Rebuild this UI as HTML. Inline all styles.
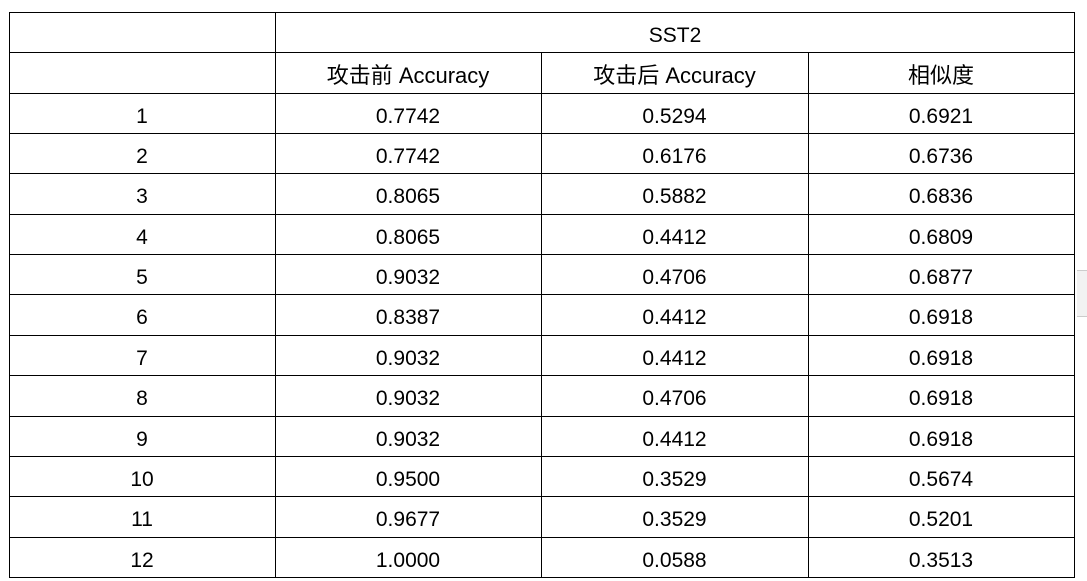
<!DOCTYPE html>
<html><head><meta charset="utf-8"><style>
body{margin:0;width:1087px;height:581px;background:#fff;position:relative;overflow:hidden;font-family:"Liberation Sans","Noto Sans CJK SC",sans-serif;color:#000}
.h{position:absolute;height:1px;background:#000}
.v{position:absolute;width:1px;background:#000}
.c{position:absolute;text-align:center;font-size:21px;line-height:40px}
.hd{font-size:22px}
</style></head><body>
<div id="t"></div>
<div style="position:absolute;left:1077px;top:270px;width:10px;height:45px;background:#f2f2f2;border-top:1px solid #ccc;border-bottom:1px solid #ccc"></div>
<script>
const rowsIdx=["1","2","3","4","5","6","7","8","9","10","11","12"];
const before=["0.7742","0.7742","0.8065","0.8065","0.9032","0.8387","0.9032","0.9032","0.9032","0.9500","0.9677","1.0000"];
const after=["0.5294","0.6176","0.5882","0.4412","0.4706","0.4412","0.4412","0.4706","0.4412","0.3529","0.3529","0.0588"];
const sim=["0.6921","0.6736","0.6836","0.6809","0.6877","0.6918","0.6918","0.6918","0.6918","0.5674","0.5201","0.3513"];
const t=document.getElementById('t');
const xs=[9,275,541,808,1074];
const y0=12,rh=40.35,n=14,dy=3;
function add(cls,st,txt,name){const d=document.createElement('div');d.className=cls;d.style.cssText=st;if(txt)d.textContent=txt;


t.appendChild(d);return d;}
for(let i=0;i<=n;i++){const y=Math.round(y0+i*rh);
 add('h',`left:9px;top:${y}px;width:1066px`,null,'row-border');}
for(let j=0;j<xs.length;j++){const top=(j===2||j===3)?Math.round(y0+rh):y0;
 add('v',`left:${xs[j]}px;top:${top}px;height:${Math.round(y0+n*rh)-top+1}px`,null,'column-border');}
add('c',`left:275px;top:${y0+1+dy}px;width:800px`,'SST2','dataset-header');
const hd=['攻击前 Accuracy','攻击后 Accuracy','相似度'];
for(let j=0;j<3;j++)add('c hd',`left:${xs[j+1]}px;top:${Math.round(y0+rh)+1+dy}px;width:${xs[j+2]-xs[j+1]}px`,hd[j],'column-header');
for(let i=0;i<rowsIdx.length;i++){const y=Math.round(y0+(i+2)*rh)+1+dy;
 const vals=[rowsIdx[i],before[i],after[i],sim[i]];
 for(let j=0;j<4;j++)add('c',`left:${xs[j]}px;top:${y}px;width:${xs[j+1]-xs[j]}px`,vals[j],j===0?'row-index':'cell-value');}
</script>
</body></html>
